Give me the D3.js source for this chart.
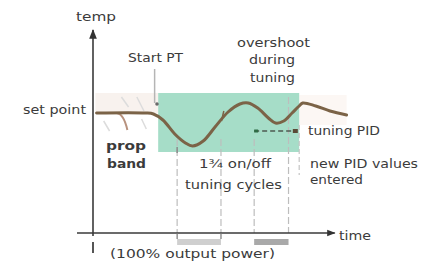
<!DOCTYPE html>
<html>
<head>
<meta charset="utf-8">
<script src="https://cdn.jsdelivr.net/npm/d3@7"></script>
<style>
  html, body { margin: 0; padding: 0; background: #fff; }
  svg text { font-family: "DejaVu Sans", sans-serif; fill: #3b3b3b; }
</style>
</head>
<body>
<div id="chart"></div>
<script>
// process response (time units 0..10, temp units 0..10)
const curveTime = [0.15, 2.2, 2.55, 2.95, 3.45, 3.9, 4.2, 4.65, 5.15, 5.7, 6.2, 6.55, 6.95, 7.4, 7.7, 8.05, 8.4, 8.7, 8.85, 9.4, 10.0, 10.7];
const curveTemp = [6.0, 6.0, 5.95, 5.65, 4.95, 4.5, 4.35, 4.6, 5.3, 6.05, 6.45, 6.5, 6.25, 5.75, 5.5, 5.6, 6.0, 6.35, 6.5, 6.35, 6.1, 5.9];

const setPoint = 6.0;
const tuningBand = [2.75, 8.7];     // green tuning window (time)
const tuningBandTemp = [4.05, 7.0]; // green tuning window (temp)
const startPT = 2.6;
const cycleMarks = [3.55, 5.4, 6.8, 8.25];   // dashed verticals
const powerBars = [[3.55, 5.4], [6.8, 8.25]]; // 100% output bars
const pidArrow = [6.8, 8.6];
const pidTemp = 5.1;

const W = 434, H = 263;
const svg = d3.select("#chart").append("svg")
  .attr("width", W).attr("height", H);

const x = d3.scaleLinear().domain([0, 10]).range([93, 330]);
const y = d3.scaleLinear().domain([0, 10]).range([233, 33]);

// pale bands either side of tuning window
svg.append("rect")
  .attr("x", x(0.1)).attr("y", y(7.0))
  .attr("width", x(tuningBand[0]) - x(0.1)).attr("height", y(setPoint) - y(7.0))
  .attr("fill", "#f8f2ee");
svg.append("rect")
  .attr("x", x(tuningBand[1])).attr("y", y(6.9))
  .attr("width", x(10.7) - x(tuningBand[1])).attr("height", y(5.4) - y(6.9))
  .attr("fill", "#fcf7f4");

// green tuning window
svg.append("rect")
  .attr("x", x(tuningBand[0])).attr("y", y(tuningBandTemp[1]))
  .attr("width", x(tuningBand[1]) - x(tuningBand[0]))
  .attr("height", y(tuningBandTemp[0]) - y(tuningBandTemp[1]))
  .attr("fill", "#a6ddc8");

// dashed verticals
svg.selectAll(".cyc")
  .data(cycleMarks)
  .enter().append("line")
    .attr("x1", d => x(d)).attr("x2", d => x(d))
    .attr("y1", (d, i) => i === 3 ? y(6.8) : y(4.7)).attr("y2", y(0))
    .attr("stroke", "#bdbdbd").attr("stroke-width", 1.2)
    .attr("stroke-dasharray", "7,3");
svg.append("line")
  .attr("x1", x(8.7)).attr("x2", x(8.7))
  .attr("y1", y(5.4)).attr("y2", y(2.9))
  .attr("stroke", "#c4c4c4").attr("stroke-width", 1.2)
  .attr("stroke-dasharray", "5,3");

// output power bars
svg.selectAll(".pbar")
  .data(powerBars)
  .enter().append("rect")
    .attr("x", d => x(d[0])).attr("y", y(0) + 6)
    .attr("width", d => x(d[1]) - x(d[0])).attr("height", 6)
    .attr("fill", (d, i) => i === 0 ? "#cfcfcf" : "#a9a9a9");

// prop band strokes
svg.append("path")
  .attr("d", `M${x(1.0)},${y(setPoint)} Q${x(1.3)},${y(5.95)} ${x(1.45)},${y(5.15)}`)
  .attr("fill", "none").attr("stroke", "#b8927e").attr("stroke-width", 2);
[[0.45, 5.6, 0.7, 5.1], [1.85, 6.8, 2.15, 6.1], [2.05, 5.7, 2.25, 5.2], [1.2, 6.8, 1.5, 6.3]].forEach(s => {
  svg.append("line")
    .attr("x1", x(s[0])).attr("y1", y(s[1])).attr("x2", x(s[2])).attr("y2", y(s[3]))
    .attr("stroke", "#dcdcdc").attr("stroke-width", 1.5);
});

// Start PT marker
svg.append("line")
  .attr("x1", x(startPT)).attr("x2", x(startPT))
  .attr("y1", y(8.2)).attr("y2", y(6.5))
  .attr("stroke", "#b5b5b5").attr("stroke-width", 1.5);
svg.append("circle")
  .attr("cx", x(2.7)).attr("cy", y(6.45)).attr("r", 1.8)
  .attr("fill", "#6a6a6a");

// response curve
const pts = curveTime.map((t, i) => [t, curveTemp[i]]);
svg.append("path")
  .datum(pts)
  .attr("d", d3.line().x(d => x(d[0])).y(d => y(d[1])).curve(d3.curveCatmullRom.alpha(0.5)))
  .attr("fill", "none").attr("stroke", "#7b6347").attr("stroke-width", 3)
  .attr("stroke-linecap", "round");
svg.append("line")
  .attr("x1", x(5.42)).attr("x2", x(5.52))
  .attr("y1", y(5.6)).attr("y2", y(6.1))
  .attr("stroke", "#7b6347").attr("stroke-width", 1.5);

// dark cycle tick
svg.append("line")
  .attr("x1", x(3.55)).attr("x2", x(3.55))
  .attr("y1", y(4.3)).attr("y2", y(4.0))
  .attr("stroke", "#8a8a8a").attr("stroke-width", 1.5);

// tuning PID arrow
svg.append("line")
  .attr("x1", x(pidArrow[0])).attr("x2", x(pidArrow[1]))
  .attr("y1", y(pidTemp)).attr("y2", y(pidTemp))
  .attr("stroke", "#4d5a50").attr("stroke-width", 1.3)
  .attr("stroke-dasharray", "5,3");
svg.append("rect")
  .attr("x", x(pidArrow[0])).attr("y", y(pidTemp) - 1.5).attr("width", 4).attr("height", 3)
  .attr("fill", "#2f6b45");
svg.append("rect")
  .attr("x", x(pidArrow[1]) - 4).attr("y", y(pidTemp) - 2).attr("width", 5).attr("height", 4)
  .attr("fill", "#5a4a36");

// axes
svg.append("defs").append("marker")
  .attr("id", "arr").attr("viewBox", "0 0 10 10")
  .attr("refX", 9).attr("refY", 5)
  .attr("markerWidth", 7).attr("markerHeight", 6)
  .attr("orient", "auto")
  .append("path").attr("d", "M0,1 L10,5 L0,9 Z").attr("fill", "#333");

svg.append("line")
  .attr("x1", x(0)).attr("x2", x(0))
  .attr("y1", y(-0.15)).attr("y2", 30)
  .attr("stroke", "#3a3a3a").attr("stroke-width", 1.6)
  .attr("marker-end", "url(#arr)");
svg.append("line")
  .attr("x1", 77).attr("x2", x(10.2))
  .attr("y1", y(0)).attr("y2", y(0))
  .attr("stroke", "#3a3a3a").attr("stroke-width", 1.4)
  .attr("marker-end", "url(#arr)");
svg.append("line")
  .attr("x1", x(0)).attr("x2", x(0))
  .attr("y1", y(0) + 9).attr("y2", y(0) + 20)
  .attr("stroke", "#555").attr("stroke-width", 2);
[3.55, 5.4].forEach(t => {
  svg.append("line")
    .attr("x1", x(t)).attr("x2", x(t))
    .attr("y1", y(0)).attr("y2", y(0) + 6)
    .attr("stroke", "#777").attr("stroke-width", 1.2);
});

// labels
function label(txt, px, py, anchor, opts) {
  opts = opts || {};
  const t = svg.append("text")
    .attr("x", px).attr("y", py)
    .attr("text-anchor", anchor || "start")
    .style("font-size", (opts.size || 13) + "px")
    .style("font-weight", opts.bold ? "bold" : "normal")
    .text(txt);
  if (opts.len) t.attr("textLength", opts.len).attr("lengthAdjust", "spacingAndGlyphs");
  return t;
}
label("temp", 76, 21, "start", {len: 40});
label("Start PT", 128, 62, "start", {len: 55});
label("overshoot", 237, 47, "start", {len: 73});
label("during", 249, 64, "start", {len: 46});
label("tuning", 250, 82, "start", {len: 45});
label("set point", 23, 114, "start", {len: 63});
label("prop", 106, 150, "start", {len: 40, bold: true});
label("band", 107, 168, "start", {len: 39, bold: true});
label("1¾ on/off", 199, 168, "start", {len: 72});
label("tuning cycles", 185, 189, "start", {len: 97});
label("tuning PID", 308, 135, "start", {len: 72});
label("new PID values", 310, 168, "start", {len: 108});
label("entered", 310, 184, "start", {len: 53});
label("time", 339, 240, "start", {len: 32});
label("(100% output power)", 110, 258, "start", {len: 165});
</script>
</body>
</html>
